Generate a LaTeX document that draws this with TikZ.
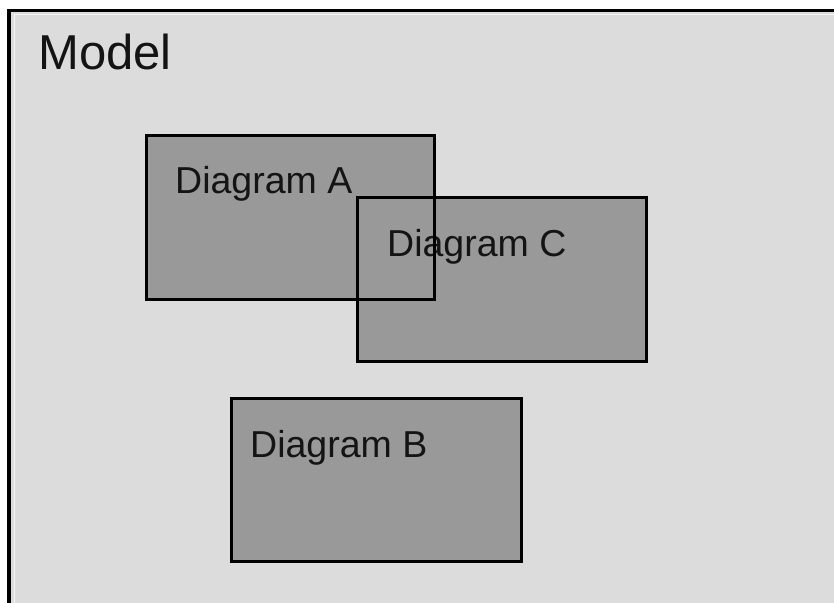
\documentclass[tikz,border=0pt]{standalone}
\usepackage{fontspec}
\setmainfont{Liberation Sans}
\begin{document}
\begin{tikzpicture}[x=1pt,y=-1pt,
  diagbox/.style={rectangle,fill=boxgray,draw=none,inner sep=0pt,minimum width=288pt,minimum height=163pt},
  outline/.style={draw=black,line width=3pt},
  diaglabel/.style={anchor=base west,inner sep=0pt,text=textdark,font=\fontsize{37.5}{41}\selectfont},
  modellabel/.style={anchor=base west,inner sep=0pt,text=textdark,font=\fontsize{49}{54}\selectfont}]
\definecolor{boxgray}{HTML}{999999}
\definecolor{modelgray}{HTML}{DCDCDC}
\definecolor{textdark}{HTML}{141414}
\useasboundingbox (0,0) rectangle (834,602);
\fill[white] (0,0) rectangle (834,602);
% model frame, open to the right and bottom
\fill[modelgray] (9,10.5) rectangle (840,610);
\draw[line width=3.5pt] (9,610) -- (9,10.5) -- (840,10.5);
\draw[white!70!modelgray,line width=1pt] (14,610) -- (14,14.5) -- (840,14.5);
\node[modellabel] (model) at (38,70) {Model};
% diagram fills
\node[diagbox,minimum width=287pt] (A) at (290.5,217.5) {};
\node[diagbox] (C) at (502,279.5) {};
\node[diagbox,minimum width=289pt,minimum height=162pt] (B) at (376.5,480) {};
% labels
\node[diaglabel] (labA) at (175,193) {Diagram A};
\node[diaglabel] (labC) at (387,256) {Diagram C};
\node[diaglabel] (labB) at (250,457) {Diagram B};
% outlines on top, so overlapping edges stay visible
\draw[outline] (A.north west) rectangle (A.south east);
\draw[outline] (C.north west) rectangle (C.south east);
\draw[outline] (B.north west) rectangle (B.south east);
\end{tikzpicture}
\end{document}
